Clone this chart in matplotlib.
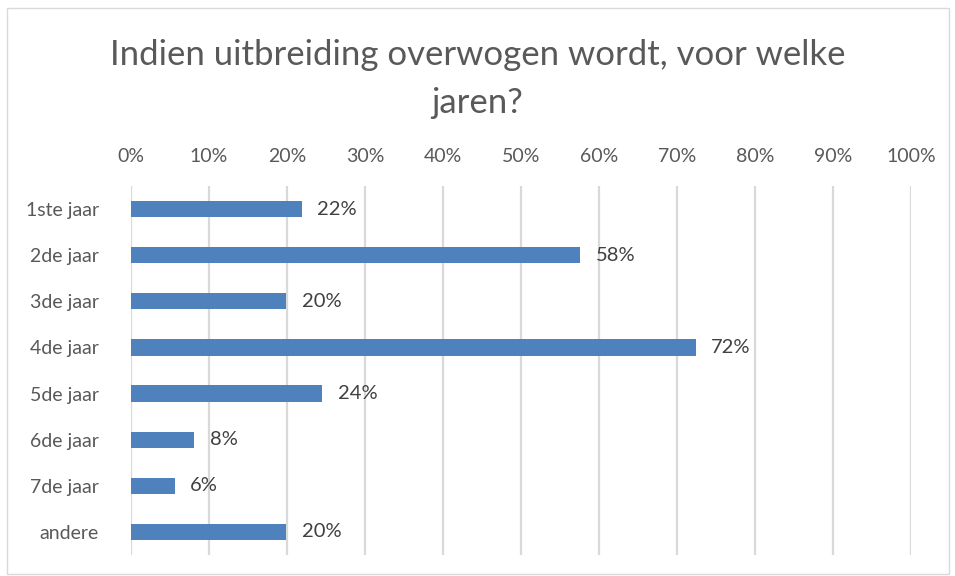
import matplotlib.pyplot as plt
from matplotlib.patches import Rectangle

categories = ["1ste jaar", "2de jaar", "3de jaar", "4de jaar",
              "5de jaar", "6de jaar", "7de jaar", "andere"]
values = [0.219, 0.576, 0.199, 0.724, 0.245, 0.081, 0.056, 0.199]
ticks = [i / 10 for i in range(11)]
title = "Indien uitbreiding overwogen wordt, voor welke\njaren?"

plt.rcParams['font.family'] = ['Lato', 'DejaVu Sans']

fig = plt.figure(figsize=(9.55, 5.76), dpi=100)
ax = fig.add_axes([131 / 955, 1 - 555 / 576, 780 / 955, 369 / 576])

y = list(range(len(categories)))
ax.barh(y, values, height=0.35, color="#4F81BD", zorder=3)
for yi, v in zip(y, values):
    ax.text(v + 0.02, yi, f"{v * 100:.0f}%", va="center", ha="left",
            fontsize=14.5, color="#404040")

ax.set_xlim(0, 1)
ax.set_ylim(len(categories) - 0.5, -0.5)
ax.set_yticks(y)
ax.set_yticklabels(categories, fontsize=14, color="#595959")
ax.set_xticks(ticks)
ax.set_xticklabels([f"{t * 100:.0f}%" for t in ticks], fontsize=14, color="#595959")
ax.xaxis.tick_top()
ax.tick_params(axis="both", length=0)
ax.tick_params(axis="x", pad=15)
ax.tick_params(axis="y", pad=23)
ax.grid(axis="x", color="#D9D9D9", linewidth=1.6, zorder=0)
for s in ax.spines.values():
    s.set_visible(False)

fig.text(0.5, 1 - 79 / 576, title, ha="center", va="center",
         fontsize=25, color="#595959", linespacing=1.6)

fig.patches.append(Rectangle((7 / 955, 1 - 574 / 576), 942 / 955, 566 / 576,
                             transform=fig.transFigure, fill=False,
                             edgecolor="#D9D9D9", linewidth=1))

fig.savefig("out.png", dpi=100)
